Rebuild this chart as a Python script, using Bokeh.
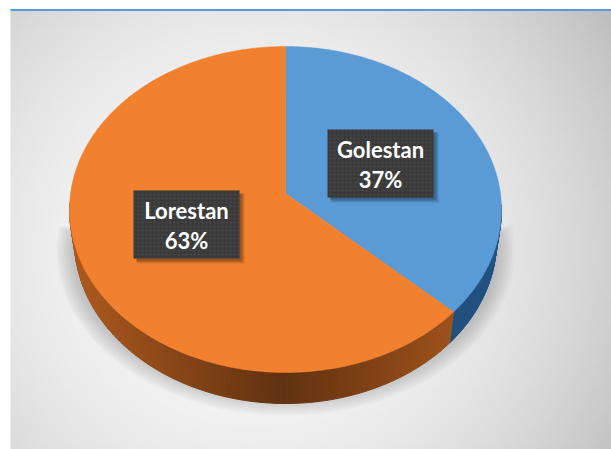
import numpy as np
from bokeh.plotting import figure
from bokeh.models import Range1d
from bokeh.core.properties import value
from bokeh.embed import file_html
from bokeh.resources import INLINE

labels = ["Golestan", "Lorestan"]
shares = [37, 63]
top_colors = ["#5b9bd5", "#f2812f"]
wall_light = [(34, 82, 130), (170, 88, 30)]
wall_dark = [(28, 68, 110), (98, 50, 16)]
label_centers = [(380, 163), (186, 224)]

W, H = 611, 449
p = figure(width=W, height=H, output_backend="svg", toolbar_location=None,
           x_range=Range1d(0, W), y_range=Range1d(H, 0), min_border=0,
           outline_line_color=None, background_fill_color="#ffffff", border_fill_color="#ffffff")
p.axis.visible = False
p.grid.visible = False

# page-grey background
ny, nx = 120, 160
yy, xx = np.mgrid[0:ny, 0:nx]
fx = 10 + (xx + .5) / nx * (W - 10)
fy = 10 + (yy + .5) / ny * (H - 10)
d2 = (fx - 250) ** 2 + (fy - 250) ** 2
g = np.clip(250 - 3.2e-4 * d2, 190, 255).astype(np.uint32)
img = (255 << 24) | (g << 16) | (g << 8) | g
p.image_rgba(image=[img], x=10, y=10, dw=W - 10, dh=H - 10)

p.line([10, W], [9.5, 9.5], line_color="#5b9bd5", line_width=2)

# geometry of tilted disc
cx, cy, rx, ry = 285, 209, 216, 163
c = (193 - 209) / 163
bcy, brx = 240, 211

def project(a):
    u, v = np.sin(a), -np.cos(a)
    den = 1 + c * v
    return u * np.sqrt(1 - c ** 2) / den, (v + c) / den

# soft ground shadow
for k in range(10):
    t = np.linspace(0, 2 * np.pi, 160)
    sx = 285 + (229 - k * 2) * np.cos(t)
    sy = 250 + (165 - k * 2) * np.sin(t)
    p.patch(sx, np.clip(sy, 226 + k, None), fill_color="#606060", fill_alpha=0.04, line_color=None)

fractions = np.cumsum([0] + shares) / sum(shares)
angles = fractions * 2 * np.pi

# side wall
for i in range(2):
    a = np.linspace(angles[i], angles[i + 1], 181)
    U, V = project(a)
    for j in range(len(a) - 1):
        if V[j] < -0.02 and V[j + 1] < -0.02:
            continue
        x_top = cx + rx * U[j:j + 2]
        y_top = cy + ry * V[j:j + 2]
        x_bot = 285 + brx * U[j:j + 2]
        y_bot = bcy + ry * V[j:j + 2]
        mid = (U[j] + 1) / 2
        s = np.abs(mid - 0.5) * 2.1
        col = tuple(int(wall_dark[i][q] + (wall_light[i][q] - wall_dark[i][q]) * min(s, 1)) for q in range(3))
        hexcol = "#%02x%02x%02x" % col
        p.patch(np.r_[x_top, x_bot[::-1]], np.r_[y_top, y_bot[::-1]],
                fill_color=hexcol, line_color=hexcol, line_width=1)

# top face
ax, ay = cx, cy + ry * c
for i in range(2):
    a = np.linspace(angles[i], angles[i + 1], 240)
    U, V = project(a)
    p.patch(np.r_[ax, cx + rx * U], np.r_[ay, cy + ry * V],
            fill_color=top_colors[i], line_color=top_colors[i], line_width=0.5)

# label boxes
for (lab, sh, (lx, ly)) in zip(labels, shares, label_centers):
    hw, hh = 53, 34
    for k in range(4):
        p.quad(left=lx - hw + 3, right=lx + hw + 2 + k, top=ly - hh + 3, bottom=ly + hh + 2 + k,
               fill_color="#000000", fill_alpha=0.10, line_color=None)
    p.quad(left=lx - hw, right=lx + hw, top=ly - hh, bottom=ly + hh,
           fill_color="#3a3a3a", line_color=None, hatch_pattern="dot",
           hatch_color="#4c4c4c", hatch_scale=4, hatch_alpha=0.8)
    p.text([lx], [ly - 14], text=[lab], text_color="#ffffff", text_font=value("Lato"),
           text_font_style="bold", text_font_size="22px", text_align="center", text_baseline="middle")
    p.text([lx], [ly + 16], text=[f"{sh}%"], text_color="#ffffff", text_font=value("Lato"),
           text_font_style="bold", text_font_size="22px", text_align="center", text_baseline="middle")

open("out.html", "w").write(file_html(p, INLINE))
